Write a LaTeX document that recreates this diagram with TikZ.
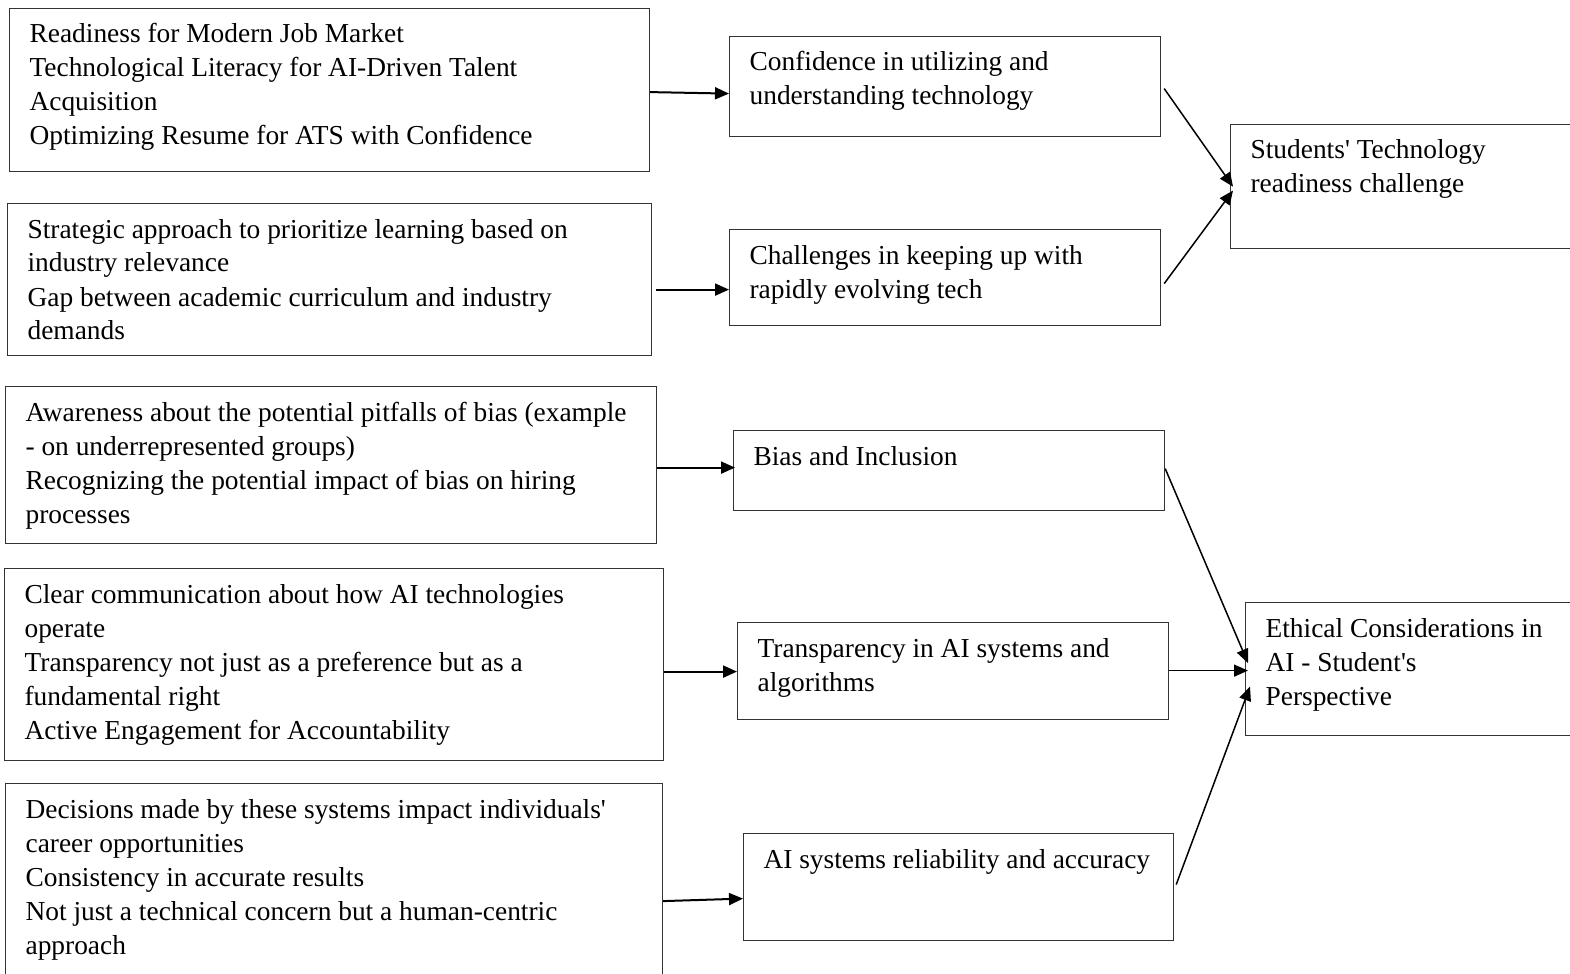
\documentclass[tikz,border=0pt]{standalone}
\usepackage{fontspec}
\setmainfont{Liberation Serif}[Ligatures=TeXOff]
\usetikzlibrary{arrows.meta,calc}
\newcommand\tbox[3]{\parbox[t][\dimexpr #2pt/2\relax][t]{\dimexpr #1pt/2\relax}{\vspace*{5.3pt}\raggedright\leftskip=10pt\strut #3}}
\tikzset{
  box/.style={draw=black!80, line width=0.6pt, inner sep=0pt, anchor=north west, font=\fontsize{13.7}{17}\selectfont},
  arr/.style={draw=black, line width=1pt, -{Triangle[length=7pt,width=6pt]}},
  darr/.style={draw=black, line width=0.75pt, -{Triangle[length=7pt,width=6pt]}}
}
\begin{document}
\begin{tikzpicture}[x=0.5pt,y=-0.5pt]
\clip (0,0) rectangle (1570,974);
\fill[white] (0,0) rectangle (1570,974);
% left boxes
\node[box] (L1) at (9,8) {\tbox{640}{163}{Readiness for Modern Job Market\\Technological Literacy for AI-Driven Talent\\Acquisition\\Optimizing Resume for ATS with Confidence}};
\node[box] (L2) at (7,203) {\tbox{644}{152}{Strategic approach to prioritize learning based on\\industry relevance\\Gap between academic curriculum and industry\\demands}};
\node[box] (L3) at (5,386) {\tbox{651}{157}{Awareness about the potential pitfalls of bias (example\\- on underrepresented groups)\\Recognizing the potential impact of bias on hiring\\processes}};
\node[box] (L4) at (4,568) {\tbox{659}{192}{Clear communication about how AI technologies\\operate\\Transparency not just as a preference but as a\\fundamental right\\Active Engagement for Accountability}};
\node[box] (L5) at (5,783) {\tbox{657}{200}{Decisions made by these systems impact individuals'\\career opportunities\\Consistency in accurate results\\Not just a technical concern but a human-centric\\approach}};
% middle boxes
\node[box] (M1) at (729,36) {\tbox{431}{100}{Confidence in utilizing and\\understanding technology}};
\node[box] (M2) at (729,229) {\tbox{431}{96}{Challenges in keeping up with\\rapidly evolving tech}};
\node[box] (M3) at (733,430) {\tbox{431}{80}{Bias and Inclusion}};
\node[box] (M4) at (737,622) {\tbox{431}{97}{Transparency in AI systems and\\algorithms}};
\node[box] (M5) at (743,833) {\tbox{430}{107}{AI systems reliability and accuracy}};
% right boxes
\node[box] (R1) at (1230,124) {\tbox{350}{124}{Students' Technology\\readiness challenge}};
\node[box] (R2) at (1245,602) {\tbox{335}{133}{Ethical Considerations in\\AI - Student's\\Perspective}};
% arrows left -> middle
\draw[arr] ($(L1.east)+(0,2)$) -- ($(M1.west)+(0,7)$);
\draw[arr] ($(L2.east)+(4,10)$) -- ($(M2.west)+(0,12)$);
\draw[arr] ($(L3.east)+(0,2.5)$) -- ($(M3.west)+(2,-3)$);
\draw[arr] ($(L4.east)+(0,7)$) -- ($(M4.west)+(0,0.5)$);
\draw[arr] ($(L5.east)+(0,17.5)$) -- ($(M5.west)+(0,11.5)$);
% arrows middle -> right
\draw[darr] ($(M1.east)+(3,2)$) -- ($(R1.west)+(3,0)$);
\draw[darr] ($(M2.east)+(3,6)$) -- ($(R1.west)+(3,4)$);
\draw[darr] ($(M3.east)+(0,-2)$) -- ($(R2.west)+(3,-6)$);
\draw[darr] ($(M4.east)+(0,-0.5)$) -- ($(R2.west)+(3,1.5)$);
\draw[darr] ($(M5.east)+(2,-2.5)$) -- ($(R2.west)+(5,17.5)$);
\end{tikzpicture}
\end{document}
